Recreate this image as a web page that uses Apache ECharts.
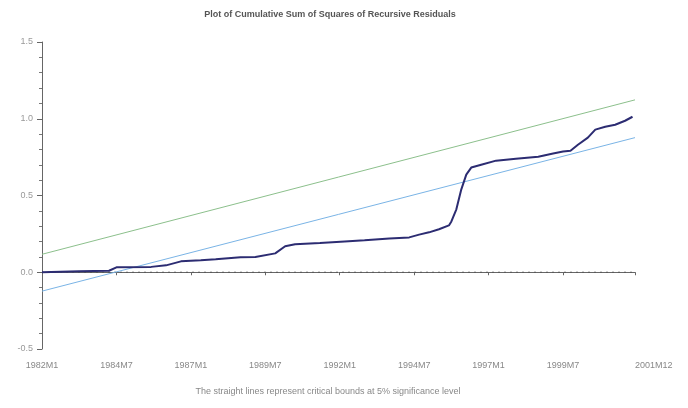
<!DOCTYPE html>
<html>
<head>
<meta charset="utf-8">
<script src="https://cdn.jsdelivr.net/npm/echarts@6/dist/echarts.min.js"></script>
<style>
html,body{margin:0;padding:0;background:#fff;}
#chart{width:688px;height:408px;}
</style>
</head>
<body>
<div id="chart"></div>
<script>
// month index 0 = 1982M1 ... 239 = 2001M12
var tickValues = [0, 30, 60, 90, 120, 150, 180, 210, 239];
var tickLabels = ['1982M1', '1984M7', '1987M1', '1989M7', '1992M1', '1994M7', '1997M1', '1999M7', '2001M12'];

var cusumMonths = [0, 15, 27, 30, 44, 50, 56, 64, 70, 80, 86, 94, 98, 102, 112, 122, 130, 140, 148, 152, 156, 160, 164, 165, 167, 169, 171, 173, 177, 183, 191, 200, 206, 210, 213, 216, 220, 223, 227, 231, 235, 238];
var cusumValues = [0.0, 0.006, 0.01, 0.032, 0.035, 0.045, 0.071, 0.078, 0.084, 0.097, 0.10, 0.123, 0.169, 0.183, 0.19, 0.20, 0.208, 0.22, 0.227, 0.245, 0.26, 0.28, 0.305, 0.331, 0.41, 0.54, 0.636, 0.682, 0.70, 0.727, 0.74, 0.753, 0.773, 0.786, 0.792, 0.831, 0.877, 0.929, 0.948, 0.961, 0.987, 1.013];

var boundMonths = [0, 239];
var upperBound = [0.117, 1.123];
var lowerBound = [-0.123, 0.877];
var zeroLine = [0, 0];

function pairs(xs, ys) { return xs.map(function (x, i) { return [x, ys[i]]; }); }

var chart = echarts.init(document.getElementById('chart'), null, { renderer: 'canvas' });
chart.setOption({
  animation: false,
  backgroundColor: '#ffffff',
  textStyle: { fontFamily: 'Liberation Sans, Arial, sans-serif' },
  title: [{
    text: 'Plot of Cumulative Sum of Squares of Recursive Residuals',
    left: 325, top: 5, textAlign: 'center',
    textStyle: { fontSize: 9, fontWeight: 'bold', color: '#555', fontFamily: 'Liberation Sans, Arial, sans-serif' }
  }, {
    text: 'The straight lines represent critical bounds at 5% significance level',
    left: 323, top: 382, textAlign: 'center',
    textStyle: { fontSize: 9, fontWeight: 'normal', color: '#888', fontFamily: 'Liberation Sans, Arial, sans-serif' }
  }],
  grid: { left: 42, right: 53, top: 42, bottom: 59 },
  xAxis: {
    type: 'value', min: 0, max: 239, interval: 30,
    axisLine: { show: true, lineStyle: { color: '#666', width: 1 } },
    axisTick: { show: true, length: 3, lineStyle: { color: '#666' } },
    splitLine: { show: false },
    axisLabel: {
      color: '#888', fontSize: 9, margin: 12, hideOverlap: false,
      showMinLabel: true, showMaxLabel: true, alignMaxLabel: 'left',
      formatter: function (v) {
        var i = tickValues.indexOf(Math.round(v));
        return i >= 0 ? tickLabels[i] : '';
      }
    }
  },
  yAxis: {
    type: 'value', min: -0.5, max: 1.5, interval: 0.5,
    axisLine: { show: true, lineStyle: { color: '#666', width: 1 } },
    axisTick: { show: true, length: 5, lineStyle: { color: '#666' } },
    minorTick: { show: true, splitNumber: 5, length: 3, lineStyle: { color: '#777' } },
    splitLine: { show: false },
    axisLabel: { color: '#999', fontSize: 9, margin: 9, formatter: function (v) { return v.toFixed(1); } }
  },
  series: [
    {
      type: 'line', data: pairs(boundMonths, zeroLine), symbol: 'none', silent: true,
      lineStyle: { color: '#555', width: 1, type: [2, 4] }
    },
    {
      type: 'line', data: pairs(boundMonths, upperBound), symbol: 'none',
      lineStyle: { color: '#8cc08c', width: 1 }
    },
    {
      type: 'line', data: pairs(boundMonths, lowerBound), symbol: 'none',
      lineStyle: { color: '#7ab4e6', width: 1 }
    },
    {
      type: 'line', data: pairs(cusumMonths, cusumValues), symbol: 'none',
      lineStyle: { color: '#2c2c72', width: 2 }
    }
  ]
});
</script>
</body>
</html>
